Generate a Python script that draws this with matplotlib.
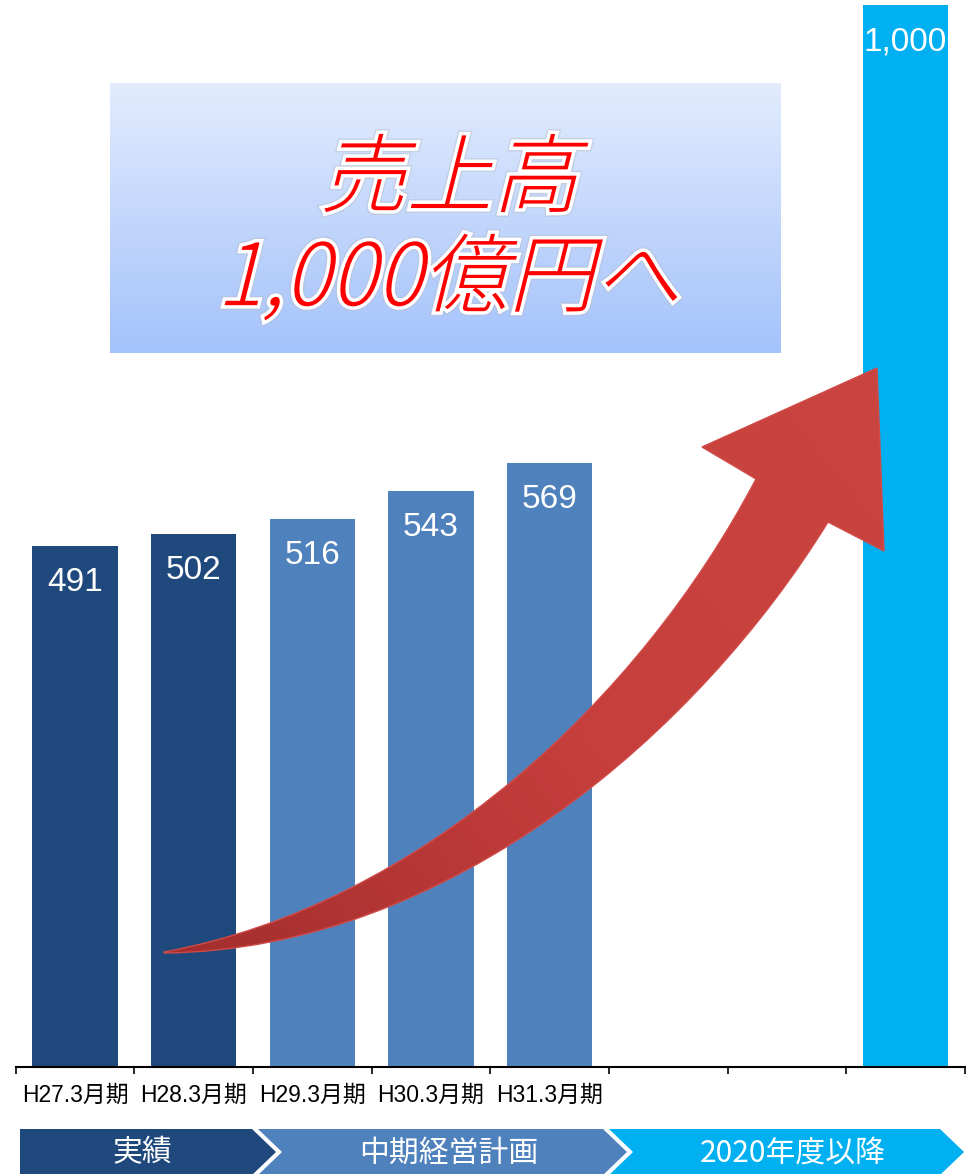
import numpy as np
import matplotlib
matplotlib.use("Agg")
import matplotlib.pyplot as plt
import matplotlib.patheffects as pe
from matplotlib.path import Path
from matplotlib.patches import PathPatch, Polygon
from matplotlib.textpath import TextPath
from matplotlib.font_manager import FontProperties
from matplotlib.transforms import Affine2D
from matplotlib.colors import LinearSegmentedColormap

plt.rcParams['font.family'] = ['Liberation Sans', 'Noto Sans CJK JP']

# data
categories = ['H27.3月期', 'H28.3月期', 'H29.3月期', 'H30.3月期', 'H31.3月期', '', '', '']
values = [491, 502, 516, 543, 569, None, None, 1000]
bar_colors = ['#1F497D', '#1F497D', '#4F81BD', '#4F81BD', '#4F81BD', None, None, '#00B0F0']
phases = ['実績', '中期経営計画', '2020年度以降']
phase_colors = ['#1F497D', '#4F81BD', '#00B0F0']
title_lines = ['売上高', '1,000億円へ']

W, H = 968, 1174
fig = plt.figure(figsize=(W / 100, H / 100), dpi=100)

# bar chart axes
ax_left, ax_right, ax_base = 15.7, 964.8, 1067
ax = fig.add_axes([ax_left / W, 1 - ax_base / H, (ax_right - ax_left) / W, ax_base / H])
for i, v in enumerate(values):
    if v is None:
        continue
    ax.bar(i, v, width=0.72, color=bar_colors[i], zorder=2)
    ax.annotate(f"{v:,}", (i, v), xytext=(0, -26.5), textcoords='offset points',
                ha='center', va='center', color='white', fontsize=24, zorder=3)

ax.set_xlim(-0.5, len(categories) - 0.5)
ax.set_ylim(0, 1005)
ax.set_yticks([])
for s in ['top', 'right', 'left']:
    ax.spines[s].set_visible(False)
ax.spines['bottom'].set_linewidth(1.5)
ax.set_xticks(range(len(categories)))
ax.set_xticklabels(categories, fontsize=16.5)
ax.set_xticks(np.arange(-0.5, len(categories)), minor=True)
ax.tick_params(axis='x', which='major', length=0, pad=12)
ax.tick_params(axis='x', which='minor', length=5, width=1.2, direction='out')
ax.patch.set_alpha(0)

# overlay in pixel coordinates
ov = fig.add_axes([0, 0, 1, 1], zorder=5)
ov.set_xlim(0, W)
ov.set_ylim(H, 0)
ov.axis('off')
ov.patch.set_alpha(0)

# title box with vertical gradient
grad_cmap = LinearSegmentedColormap.from_list('box', ['#E2ECFD', '#A4C2FB'])
ov.imshow(np.linspace(0, 1, 256).reshape(-1, 1), cmap=grad_cmap, aspect='auto',
          extent=(110, 781, 353, 83), origin='upper', zorder=1)

fp = FontProperties(family=['Noto Sans CJK JP'], weight='light')
for line, (cx, cy) in zip(title_lines, [(457, 173), (457, 277)]):
    tp = TextPath((0, 0), line, size=86, prop=fp)
    ext = tp.get_extents()
    tr = (Affine2D().translate(-(ext.x0 + ext.x1) / 2, -(ext.y0 + ext.y1) / 2)
          .skew_deg(14, 0).scale(1, -1).translate(cx, cy))
    patch = PathPatch(tr.transform_path(tp), facecolor='#FF0000', edgecolor='none', zorder=3,
                      path_effects=[pe.Stroke(linewidth=7, foreground='#B8C0D0', alpha=0.5),
                                    pe.Stroke(linewidth=5, foreground='white'),
                                    pe.Normal()])
    ov.add_patch(patch)

# curved red arrow
verts = [(164, 952), (420, 905), (640, 700), (756, 479),
         (702, 447), (877, 368), (884, 551), (828, 522),
         (700, 730), (450, 950), (164, 953), (164, 952)]
codes = [Path.MOVETO, Path.CURVE4, Path.CURVE4, Path.CURVE4,
         Path.LINETO, Path.LINETO, Path.LINETO, Path.LINETO,
         Path.CURVE4, Path.CURVE4, Path.CURVE4, Path.CLOSEPOLY]
arrow = PathPatch(Path(verts, codes), facecolor='none', edgecolor='#D04A48', lw=1, zorder=4)
ov.add_patch(arrow)
xs = np.linspace(150, 900, 200)
ys = np.linspace(350, 970, 200)
X, Y = np.meshgrid(xs, ys)
d = np.array([880 - 164, 370 - 953], dtype=float)
tval = ((X - 164) * d[0] + (Y - 953) * d[1]) / (d @ d)
arrow_cmap = LinearSegmentedColormap.from_list('arr', ['#A32E2E', '#C63F3C', '#CA4440'])
im = ov.imshow(tval, cmap=arrow_cmap, extent=(150, 900, 970, 350), origin='upper',
               aspect='auto', zorder=3, vmin=0, vmax=1)
im.set_clip_path(arrow)

# phase chevrons at the bottom
top, bot, depth = 1129, 1175, 24
mid = (top + bot) / 2
spans = [(20, 252, False), (258, 603, True), (609, 940, True)]
for (x0, x1, notch), col, label in zip(spans, phase_colors, phases):
    pts = [(x0, top), (x1, top), (x1 + depth, mid), (x1, bot), (x0, bot)]
    if notch:
        pts.append((x0 + depth, mid))
    ov.add_patch(Polygon(pts, closed=True, facecolor=col, edgecolor='none', zorder=2))
    tx = (x0 + (depth if notch else 0) + x1 + depth) / 2 - 6
    ov.text(tx, mid + 1, label, color='white', fontsize=21.5, ha='center', va='center',
            family=['Noto Sans CJK JP'], zorder=3)

fig.savefig('out.png', dpi=100)
